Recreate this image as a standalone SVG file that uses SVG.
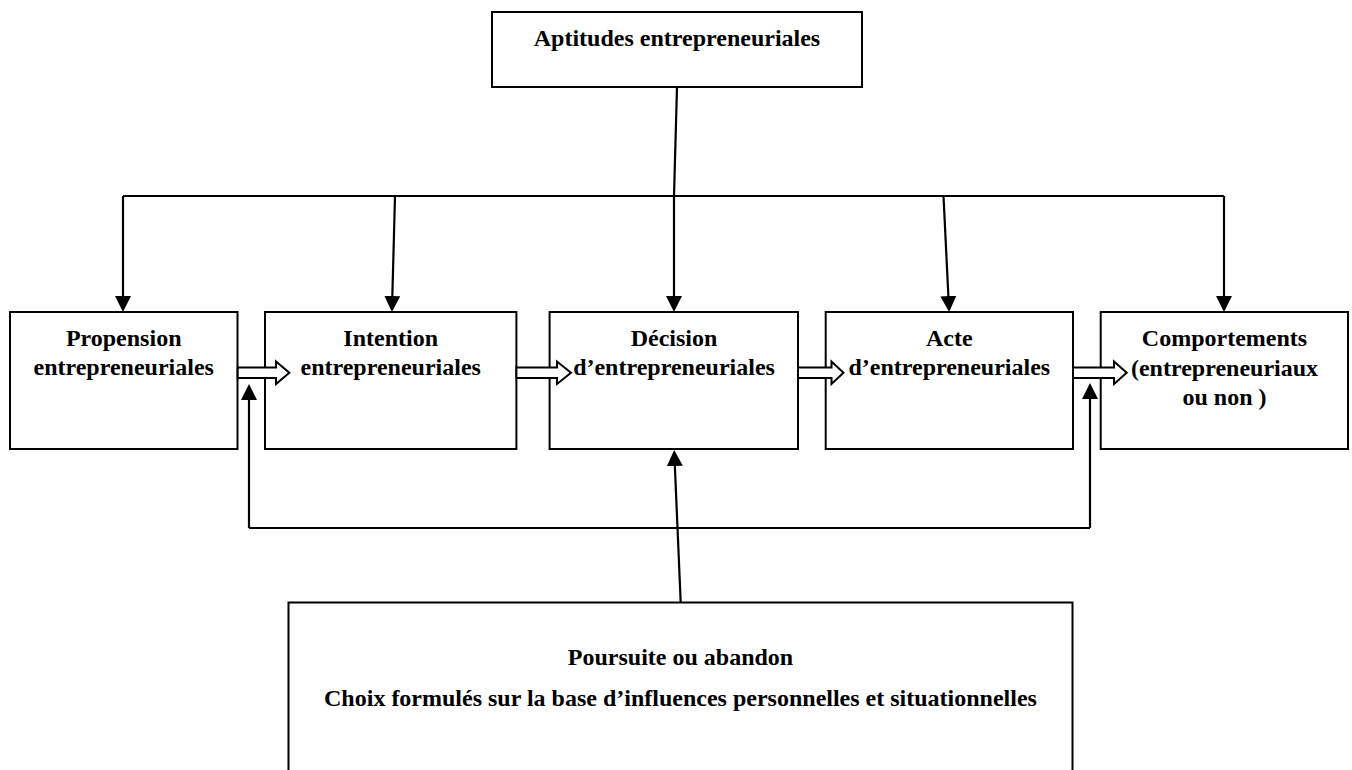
<svg xmlns="http://www.w3.org/2000/svg" width="1352" height="770" viewBox="0 0 1352 770">
<style>
.box{fill:#fff;stroke:#000;stroke-width:2}
.t{font-family:"Liberation Serif","Times New Roman",serif;font-weight:bold;font-size:24px;fill:#000;text-anchor:middle}
.ln{fill:none;stroke:#000;stroke-width:2.2}
.arr{fill:none;stroke:#000;stroke-width:2.2;marker-end:url(#ah)}
.hol{fill:#fff;stroke:#000;stroke-width:2;stroke-linejoin:miter}
</style>
<defs>
<marker id="ah" markerUnits="userSpaceOnUse" markerWidth="16" markerHeight="16" viewBox="0 0 16 16" refX="13" refY="8" orient="auto">
<path d="M0,0 L16,8 L0,16 z" fill="#000"/>
</marker>
</defs>
<rect width="1352" height="770" fill="#fff"/>
<g id="aptitudes">
<rect class="box" x="492" y="12" width="370" height="75"/>
<text class="t" x="677" y="46">Aptitudes entrepreneuriales</text>
</g>
<g id="propension">
<rect class="box" x="10" y="312" width="227.5" height="137"/>
<text class="t" x="123.7" y="346">Propension</text>
<text class="t" x="123.7" y="375">entrepreneuriales</text>
</g>
<g id="intention">
<rect class="box" x="265" y="312" width="251.4" height="137"/>
<text class="t" x="390.7" y="346">Intention</text>
<text class="t" x="390.7" y="375">entrepreneuriales</text>
</g>
<g id="decision">
<rect class="box" x="549.6" y="312" width="248.4" height="137"/>
<text class="t" x="674" y="346">Décision</text>
<text class="t" x="674" y="375">d’entrepreneuriales</text>
</g>
<g id="acte">
<rect class="box" x="825.7" y="312" width="247.3" height="137"/>
<text class="t" x="949.3" y="346">Acte</text>
<text class="t" x="949.3" y="375">d’entrepreneuriales</text>
</g>
<g id="comportements">
<rect class="box" x="1100.7" y="312" width="247.3" height="137"/>
<text class="t" x="1224.5" y="346">Comportements</text>
<text class="t" x="1224.5" y="376">(entrepreneuriaux</text>
<text class="t" x="1224.5" y="405">ou non )</text>
</g>
<g id="poursuite">
<rect class="box" x="288.5" y="602.5" width="784" height="220"/>
<text class="t" x="680.5" y="665">Poursuite ou abandon</text>
<text class="t" x="680.5" y="706">Choix formulés sur la base d’influences personnelles et situationnelles</text>
</g>
<g id="connectors">
<path class="ln" d="M677,87 L674,196"/>
<path class="ln" d="M123,196 H1224"/>
<path class="arr" d="M123,196 V309"/>
<path class="arr" d="M395,196 L392,309"/>
<path class="arr" d="M674,196 V309"/>
<path class="arr" d="M943.5,196 L949,309"/>
<path class="arr" d="M1224,196 V309"/>
<path class="arr" d="M680.7,602.5 L674.3,453"/>
<path class="ln" d="M249,528 H1090"/>
<path class="arr" d="M249,528 V387"/>
<path class="arr" d="M1090,528 V386"/>
<polygon class="hol" points="237.7,367.5 276,367.5 276,361.5 289.3,372.7 276,384 276,378 237.7,378"/>
<polygon class="hol" points="516.4,367.5 557,367.5 557,361.5 571,372.7 557,384 557,378 516.4,378"/>
<polygon class="hol" points="798,367.5 831.5,367.5 831.5,361.5 843.5,372.7 831.5,384 831.5,378 798,378"/>
<polygon class="hol" points="1073,367.5 1114,367.5 1114,361.5 1126.7,372.7 1114,384 1114,378 1073,378"/>
</g>
</svg>
